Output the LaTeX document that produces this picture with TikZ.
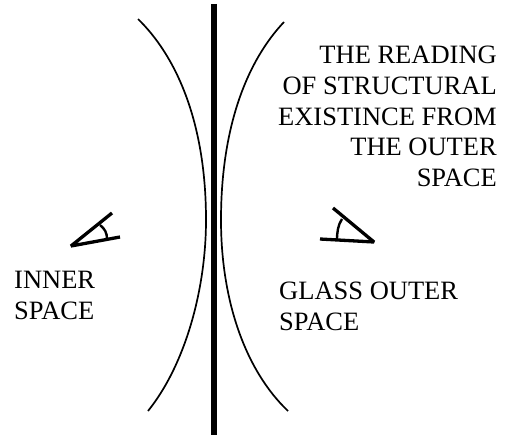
\documentclass[tikz,border=0pt]{standalone}
\usepackage{fontspec}
\setmainfont{Liberation Serif}
\tikzset{lbl/.style={inner sep=0pt,font=\fontsize{26.5pt}{30.9pt}\selectfont,align=left,anchor=north west},
lblr/.style={lbl,align=right,anchor=north east},
curve/.style={line width=1.7pt},eye/.style={line width=3.3pt,line join=bevel},eyearc/.style={line width=2.4pt}}
\begin{document}
\begin{tikzpicture}[x=1pt,y=-1pt]
\useasboundingbox (0,0) rectangle (508,436);
\draw[line width=6pt] (214,4) -- (214,435);
\draw[curve] (138,19) .. controls (175,55) and (206,120) .. (206,220) .. controls (206,290) and (185,365) .. (148,411);
\draw[curve] (284,22) .. controls (248,60) and (221,125) .. (221,220) .. controls (221,300) and (245,370) .. (288,411);
\draw[eye] (112,213) -- (71,246) -- (120,237);
\draw[eyearc] (100,225) .. controls (105,229) and (107,233) .. (107,239);
\draw[eye] (333,208) -- (374,242) -- (320,239);
\draw[eyearc] (342,219) .. controls (338,225) and (337,232) .. (337,240);
\node[lblr] (a) at (497,45.5) {THE READING\\OF STRUCTURAL\\EXISTINCE FROM\\THE OUTER\\SPACE};
\node[lbl] (b) at (14,271) {INNER\\SPACE};
\node[lbl] (c) at (279,282) {GLASS OUTER\\SPACE};
\end{tikzpicture}
\end{document}
